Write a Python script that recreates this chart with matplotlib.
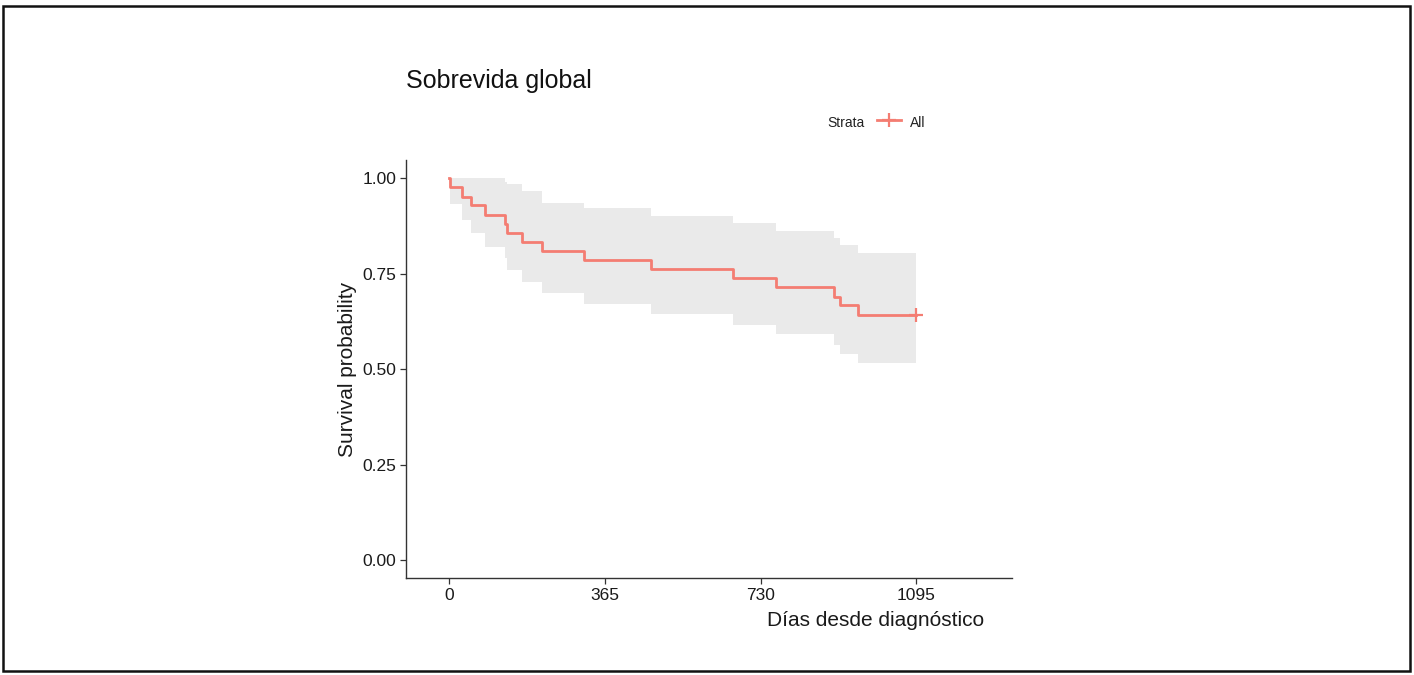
import numpy as np
import matplotlib
matplotlib.use("Agg")
import matplotlib.pyplot as plt
from matplotlib.lines import Line2D
from matplotlib.patches import Rectangle

plt.rcParams["font.family"] = ["Liberation Sans", "DejaVu Sans"]

# Kaplan-Meier estimate (days, survival, 95% CI)
time = [0, 1, 29, 50, 84, 131, 135, 169, 216, 316, 472, 665, 765, 901, 915, 959, 1095]
surv = [1.0, 0.976, 0.952, 0.929, 0.905, 0.881, 0.857, 0.833, 0.810, 0.786,
        0.762, 0.738, 0.714, 0.690, 0.667, 0.643, 0.643]
lower = [1.0, 0.932, 0.890, 0.857, 0.820, 0.790, 0.759, 0.728, 0.700, 0.670,
         0.644, 0.615, 0.591, 0.563, 0.539, 0.515, 0.515]
upper = [1.0, 1.0, 1.0, 1.0, 1.0, 0.99, 0.984, 0.966, 0.936, 0.921,
         0.901, 0.883, 0.862, 0.844, 0.825, 0.805, 0.805]
censor_time = [1095]
censor_surv = [0.643]

xticks = [0, 365, 730, 1095]
yticks = [0.0, 0.25, 0.50, 0.75, 1.00]

W, H = 1414, 675
fig = plt.figure(figsize=(W / 100, H / 100), dpi=100)

# axes box in pixels
x0, x1, y0, y1 = 406, 1012, 160, 578
ax = fig.add_axes([x0 / W, 1 - y1 / H, (x1 - x0) / W, (y1 - y0) / H])

col = "#F47D72"
ax.fill_between(time, lower, upper, step="post", color="#EAEAEA", lw=0)
ax.step(time, surv, where="post", color=col, lw=2.0)
ax.plot(censor_time, censor_surv, ls="none", marker="+", ms=10, mew=1.6, color=col)

ax.set_xlim(-102, 1319)
ax.set_ylim(-0.047, 1.048)
ax.set_xticks(xticks)
ax.set_xticklabels([str(t) for t in xticks])
ax.set_yticks(yticks)
ax.set_yticklabels([f"{v:.2f}" for v in yticks])

for s in ["top", "right"]:
    ax.spines[s].set_visible(False)
for s in ["left", "bottom"]:
    ax.spines[s].set_color("#333333")
    ax.spines[s].set_linewidth(1.0)
ax.tick_params(axis="both", length=4, width=0.9, color="#333333",
               labelsize=12.5, labelcolor="#1a1a1a", pad=3)

ax.set_ylabel("Survival probability", fontsize=15, color="#1a1a1a")
ax.yaxis.set_label_coords((357 - x0) / (x1 - x0), 0.5)
ax.set_xlabel("Días desde diagnóstico", fontsize=15, color="#1a1a1a")
ax.xaxis.set_label_coords((876 - x0) / (x1 - x0), (y1 - 611) / (y1 - y0))

fig.text(406 / W, 1 - 88 / H, "Sobrevida global", fontsize=18,
         va="baseline", ha="left", color="#111111")

# legend
fig.text(827 / W, 1 - 127 / H, "Strata", fontsize=10, va="baseline", color="#222222")
fig.add_artist(Line2D([877 / W, 901 / W], [1 - 120 / H] * 2, color=col, lw=2.0))
fig.add_artist(Line2D([889 / W], [1 - 120 / H], marker="+", ms=10, mew=1.6, color=col))
fig.text(910 / W, 1 - 127 / H, "All", fontsize=10, va="baseline", color="#222222")

# outer frame
fig.add_artist(Rectangle((3 / W, 4 / H), (W - 7) / W, (H - 10) / H,
                         transform=fig.transFigure, fill=False,
                         ec="#111111", lw=1.8))

fig.savefig("out.png", dpi=100)
